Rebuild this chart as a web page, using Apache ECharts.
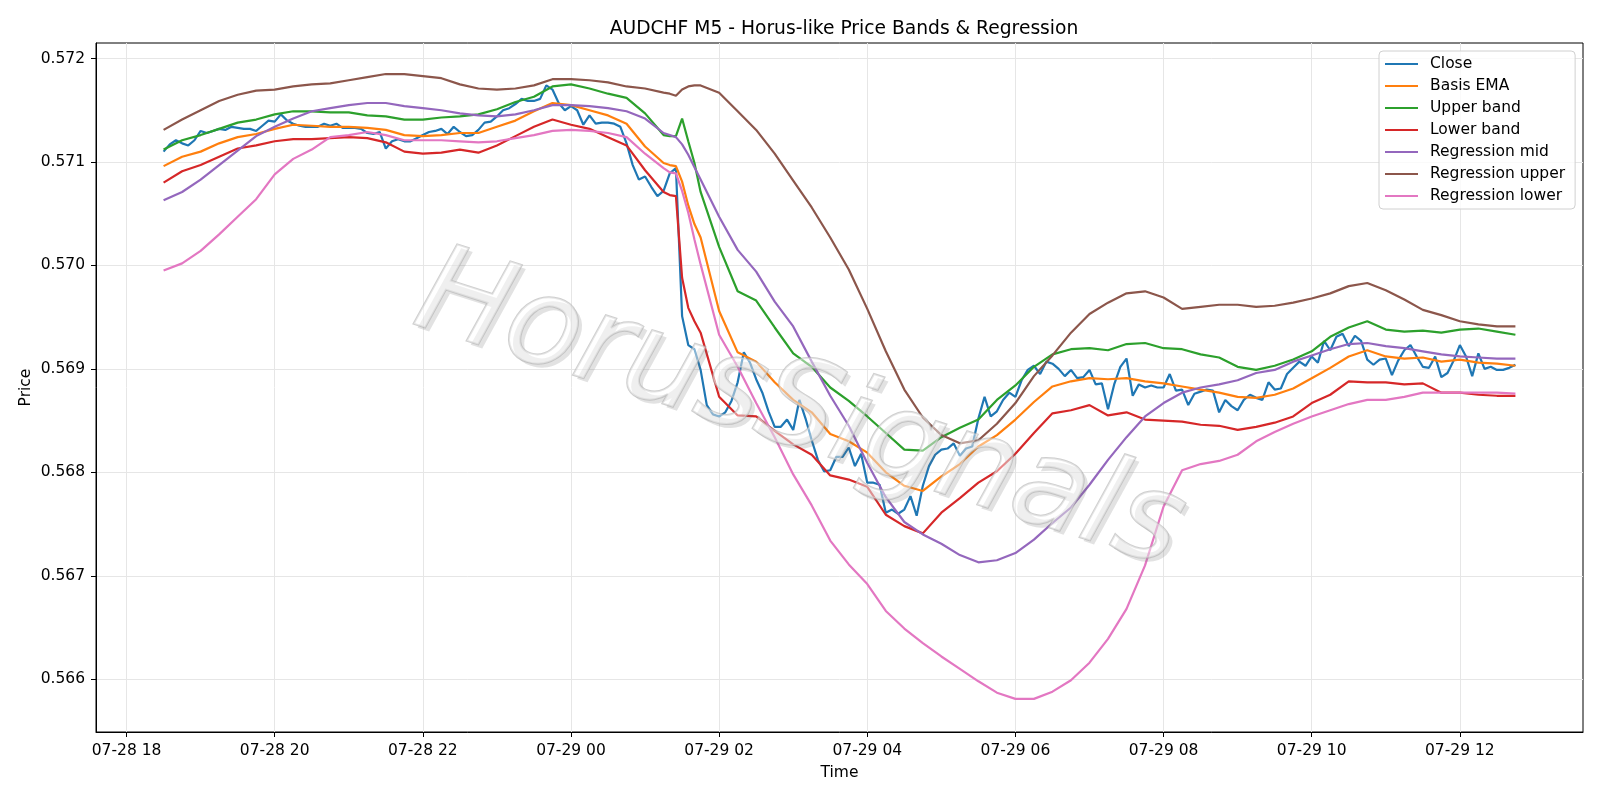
<!DOCTYPE html>
<html>
<head>
<meta charset="utf-8">
<title>AUDCHF M5</title>
<script src="https://cdn.jsdelivr.net/npm/echarts@6/dist/echarts.min.js"></script>
<style>
  html, body { margin: 0; padding: 0; background: #fff; }
  #chart { width: 1600px; height: 800px; }
</style>
</head>
<body>
<div id="chart"></div>
<script>
// 5 minute closes, 07-28 18:30 .. 07-29 12:45
const closePrices = [
  0.57110,0.57117,0.57121,0.57118,0.57116,0.57121,0.57130,0.57128,0.57130,0.57132,0.57131,0.57134,
  0.57133,0.57132,0.57132,0.57130,0.57135,0.57140,0.57139,0.57146,0.57140,0.57137,0.57135,0.57134,
  0.57134,0.57134,0.57137,0.57135,0.57137,0.57133,0.57133,0.57133,0.57132,0.57128,0.57127,0.57129,
  0.57113,0.57120,0.57122,0.57120,0.57120,0.57123,0.57126,0.57129,0.57130,0.57132,0.57127,0.57134,
  0.57129,0.57125,0.57126,0.57131,0.57138,0.57139,0.57144,0.57150,0.57152,0.57156,0.57161,0.57159,
  0.57159,0.57161,0.57174,0.57170,0.57157,0.57150,0.57154,0.57150,0.57136,0.57145,0.57137,0.57138,
  0.57138,0.57137,0.57134,0.57118,0.57097,0.57083,0.57086,0.57076,0.57067,0.57072,0.57089,0.57094,
  0.56951,0.56923,0.56919,0.56899,0.56865,0.56856,0.56854,0.56858,0.56869,0.56887,0.56916,0.56906,
  0.56890,0.56877,0.56859,0.56844,0.56844,0.56851,0.56841,0.56870,0.56852,0.56831,0.56812,0.56801,
  0.56802,0.56815,0.56815,0.56824,0.56806,0.56818,0.56790,0.56790,0.56788,0.56761,0.56764,0.56760,
  0.56764,0.56777,0.56758,0.56787,0.56806,0.56817,0.56822,0.56823,0.56828,0.56816,0.56823,0.56825,
  0.56852,0.56873,0.56854,0.56859,0.56870,0.56877,0.56873,0.56889,0.56899,0.56903,0.56895,0.56907,
  0.56905,0.56900,0.56893,0.56899,0.56891,0.56892,0.56899,0.56885,0.56886,0.56861,0.56885,0.56902,
  0.56910,0.56874,0.56885,0.56882,0.56884,0.56882,0.56882,0.56895,0.56879,0.56880,0.56865,0.56876,
  0.56878,0.56880,0.56879,0.56858,0.56870,0.56864,0.56860,0.56870,0.56875,0.56872,0.56870,0.56887,
  0.56880,0.56881,0.56895,0.56901,0.56907,0.56903,0.56912,0.56906,0.56927,0.56918,0.56931,0.56934,
  0.56922,0.56932,0.56927,0.56909,0.56904,0.56909,0.56910,0.56894,0.56908,0.56918,0.56923,0.56912,
  0.56902,0.56901,0.56912,0.56892,0.56896,0.56908,0.56923,0.56912,0.56893,0.56915,0.56900,0.56902,
  0.56899,0.56899,0.56901,0.56904
];

// band / regression lines, read every 15 min (plus the 01:20-01:40 jump)
const basisEma = [
  0.57096,0.57105,0.57110,0.57118,0.57124,0.57127,0.57132,0.57136,0.57135,0.57134,
  0.57134,0.57133,0.57131,0.57126,0.57125,0.57126,0.57128,0.57128,0.57134,0.57140,
  0.57149,0.57157,0.57155,0.57150,0.57145,0.57137,0.57115,0.57099,
  0.57097,0.57096,0.57081,0.57058,0.57040,
  0.57027,0.56956,0.56916,0.56907,0.56887,0.56870,0.56858,0.56837,0.56830,0.56819,
  0.56800,0.56787,0.56782,0.56796,0.56808,0.56825,0.56836,0.56851,0.56868,0.56883,
  0.56888,0.56891,0.56890,0.56891,0.56888,0.56886,0.56883,0.56880,0.56877,0.56873,
  0.56872,0.56875,0.56881,0.56891,0.56901,0.56912,0.56918,0.56912,0.56910,0.56911,
  0.56907,0.56909,0.56906,0.56905,0.56903
];
const upperBand = [
  0.57112,0.57121,0.57126,0.57132,0.57138,0.57141,0.57146,0.57149,0.57149,0.57148,
  0.57148,0.57145,0.57144,0.57141,0.57141,0.57143,0.57144,0.57146,0.57151,0.57158,
  0.57163,0.57173,0.57175,0.57171,0.57166,0.57162,0.57147,0.57126,
  0.57125,0.57125,0.57142,0.57120,0.57099,
  0.57071,0.57018,0.56975,0.56966,0.56940,0.56915,0.56902,0.56882,0.56869,0.56854,
  0.56838,0.56822,0.56821,0.56834,0.56843,0.56851,0.56870,0.56884,0.56902,0.56914,
  0.56919,0.56920,0.56918,0.56924,0.56925,0.56920,0.56919,0.56914,0.56911,0.56902,
  0.56899,0.56903,0.56909,0.56917,0.56931,0.56940,0.56946,0.56938,0.56936,0.56937,
  0.56935,0.56938,0.56939,0.56936,0.56933
];
const lowerBand = [
  0.57080,0.57091,0.57097,0.57105,0.57113,0.57116,0.57120,0.57122,0.57122,0.57123,
  0.57124,0.57123,0.57119,0.57110,0.57108,0.57109,0.57112,0.57109,0.57116,0.57125,
  0.57134,0.57141,0.57136,0.57132,0.57124,0.57116,0.57092,0.57071,
  0.57068,0.57067,0.56988,0.56959,0.56946,
  0.56935,0.56873,0.56855,0.56854,0.56840,0.56827,0.56817,0.56797,0.56793,0.56786,
  0.56759,0.56748,0.56741,0.56761,0.56775,0.56790,0.56801,0.56818,0.56838,0.56857,
  0.56860,0.56865,0.56855,0.56858,0.56851,0.56850,0.56849,0.56846,0.56845,0.56841,
  0.56844,0.56848,0.56854,0.56867,0.56875,0.56888,0.56887,0.56887,0.56885,0.56886,
  0.56877,0.56877,0.56875,0.56874,0.56874
];
const regMid = [
  0.57063,0.57071,0.57083,0.57097,0.57111,0.57125,0.57134,0.57142,0.57149,0.57152,
  0.57155,0.57157,0.57157,0.57154,0.57152,0.57150,0.57147,0.57145,0.57144,0.57146,
  0.57150,0.57155,0.57155,0.57154,0.57152,0.57149,0.57142,0.57128,
  0.57126,0.57124,0.57117,0.57107,0.57095,
  0.57083,0.57047,0.57015,0.56994,0.56965,0.56941,0.56907,0.56874,0.56845,0.56809,
  0.56776,0.56752,0.56740,0.56731,0.56720,0.56713,0.56715,0.56722,0.56735,0.56751,
  0.56766,0.56788,0.56812,0.56834,0.56854,0.56867,0.56877,0.56882,0.56885,0.56889,
  0.56896,0.56899,0.56907,0.56913,0.56919,0.56924,0.56925,0.56922,0.56920,0.56917,
  0.56914,0.56912,0.56911,0.56910,0.56910
];
const regUpper = [
  0.57131,0.57141,0.57150,0.57159,0.57165,0.57169,0.57170,0.57173,0.57175,0.57176,
  0.57179,0.57182,0.57185,0.57185,0.57183,0.57181,0.57175,0.57171,0.57170,0.57171,
  0.57174,0.57180,0.57180,0.57179,0.57177,0.57173,0.57171,0.57167,
  0.57166,0.57164,0.57170,0.57173,0.57174,
  0.57174,0.57167,0.57149,0.57131,0.57108,0.57082,0.57056,0.57027,0.56996,0.56958,
  0.56917,0.56880,0.56853,0.56836,0.56828,0.56831,0.56847,0.56867,0.56893,0.56913,
  0.56935,0.56953,0.56964,0.56973,0.56975,0.56969,0.56958,0.56960,0.56962,0.56962,
  0.56960,0.56961,0.56964,0.56968,0.56973,0.56980,0.56983,0.56976,0.56967,0.56957,
  0.56952,0.56946,0.56943,0.56941,0.56941
];
const regLower = [
  0.56995,0.57002,0.57014,0.57030,0.57047,0.57064,0.57088,0.57103,0.57112,0.57124,
  0.57126,0.57129,0.57126,0.57121,0.57121,0.57121,0.57120,0.57119,0.57120,0.57123,
  0.57126,0.57130,0.57131,0.57130,0.57128,0.57124,0.57108,0.57094,
  0.57090,0.57089,0.57072,0.57051,0.57025,
  0.57001,0.56933,0.56902,0.56867,0.56834,0.56798,0.56768,0.56734,0.56711,0.56692,
  0.56666,0.56649,0.56635,0.56622,0.56610,0.56598,0.56587,0.56581,0.56581,0.56588,
  0.56599,0.56616,0.56639,0.56668,0.56710,0.56767,0.56802,0.56808,0.56811,0.56817,
  0.56830,0.56839,0.56847,0.56854,0.56860,0.56866,0.56870,0.56870,0.56873,0.56877,
  0.56877,0.56877,0.56877,0.56877,0.56876
];

const xTickLabels = ['07-28 18','07-28 20','07-28 22','07-29 00','07-29 02',
                     '07-29 04','07-29 06','07-29 08','07-29 10','07-29 12'];
const yTicks = [0.566, 0.567, 0.568, 0.569, 0.570, 0.571, 0.572];

const MIN = 60000;
const startMs = Date.UTC(2025, 6, 28, 18, 30);
const firstTickMs = Date.UTC(2025, 6, 28, 18, 0);
const xTicks = xTickLabels.map((_, n) => firstTickMs + n * 120 * MIN);

// minutes after 18:30 for the 15-min lines
const bandMinutes = [];
for (let k = 0; k <= 73; k++) {
  bandMinutes.push(k * 15);
  if (k === 27) bandMinutes.push(410, 415);
  if (k === 28) bandMinutes.push(425, 430);
}

const closeData = closePrices.map((v, i) => [startMs + i * 5 * MIN, v]);
const toBand = arr => arr.map((v, j) => [startMs + bandMinutes[j] * MIN, v]);

const colors = ['#1f77b4', '#ff7f0e', '#2ca02c', '#d62728', '#9467bd', '#8c564b', '#e377c2'];
const names = ['Close', 'Basis EMA', 'Upper band', 'Lower band',
               'Regression mid', 'Regression upper', 'Regression lower'];
const seriesData = [closeData, toBand(basisEma), toBand(upperBand), toBand(lowerBand),
                    toBand(regMid), toBand(regUpper), toBand(regLower)];

const font = 'DejaVu Sans';
const fs = 15.5;
const chart = echarts.init(document.getElementById('chart'));

chart.setOption({
  animation: false,
  backgroundColor: '#fff',
  color: colors,
  textStyle: { fontFamily: font },
  title: {
    text: 'AUDCHF M5 - Horus-like Price Bands & Regression',
    left: 839, top: 15, textAlign: 'center',
    textStyle: { fontFamily: font, fontSize: 18.7, fontWeight: 'normal', color: '#000' }
  },
  grid: {
    left: 96, right: 17, top: 43, bottom: 68,
    show: true, borderColor: '#000', borderWidth: 1, backgroundColor: 'transparent'
  },
  legend: {
    data: names,
    orient: 'vertical',
    left: 1379, top: 51,
    icon: 'rect',
    itemWidth: 33, itemHeight: 2, itemGap: 6,
    padding: [5, 10, 5, 6],
    backgroundColor: 'rgba(255,255,255,0.8)',
    borderColor: '#d0d0d0', borderWidth: 1, borderRadius: 4,
    textStyle: { fontFamily: font, fontSize: fs, color: '#000', lineHeight: 16, padding: [0, 0, 0, 7] }
  },
  xAxis: {
    type: 'value',
    min: startMs - 54.75 * MIN,
    max: startMs + 1095 * MIN + 54.75 * MIN,
    name: 'Time', nameLocation: 'middle', nameGap: 33,
    nameTextStyle: { fontFamily: font, fontSize: fs, color: '#000' },
    axisLine: { show: true, lineStyle: { color: '#000', width: 1 } },
    axisTick: { show: true, length: 5, lineStyle: { color: '#000' }, customValues: xTicks },
    axisLabel: {
      customValues: xTicks, margin: 11, fontSize: fs, color: '#000', fontFamily: font,
      formatter: v => xTickLabels[xTicks.indexOf(v)] || ''
    },
    splitLine: { show: true, lineStyle: { color: '#e6e6e6', width: 1 } }
  },
  yAxis: {
    type: 'value',
    min: 0.56549, max: 0.57215,
    name: 'Price', nameLocation: 'middle', nameGap: 62, nameMoveOverlap: false,
    nameTextStyle: { fontFamily: font, fontSize: fs, color: '#000' },
    axisLine: { show: true, lineStyle: { color: '#000', width: 1 } },
    axisTick: { show: true, length: 5, lineStyle: { color: '#000' }, customValues: yTicks },
    axisLabel: {
      customValues: yTicks, margin: 11, fontSize: fs, color: '#000', fontFamily: font,
      formatter: v => v.toFixed(3)
    },
    splitLine: { show: true, lineStyle: { color: '#e6e6e6', width: 1 } }
  },
  graphic: [
    {
      type: 'text', x: 803, y: 418, rotation: -0.31, z: 100, silent: true,
      style: {
        text: 'HorusSignals', fontFamily: font, fontSize: 122, fontStyle: 'italic',
        align: 'center', verticalAlign: 'middle',
        fill: 'rgba(110,110,110,0.2)'
      }
    },
    {
      type: 'text', x: 799, y: 414, rotation: -0.31, z: 101, silent: true,
      style: {
        text: 'HorusSignals', fontFamily: font, fontSize: 122, fontStyle: 'italic',
        align: 'center', verticalAlign: 'middle',
        fill: 'rgba(255,255,255,0.45)', stroke: 'rgba(175,175,175,0.6)', lineWidth: 2
      }
    }
  ],
  series: names.map((n, s) => ({
    name: n,
    type: 'line',
    data: seriesData[s],
    symbol: 'none',
    showSymbol: false,
    lineStyle: { width: 2.2, color: colors[s] },
    itemStyle: { color: colors[s] },
    z: 2 + s
  }))
});
</script>
</body>
</html>
